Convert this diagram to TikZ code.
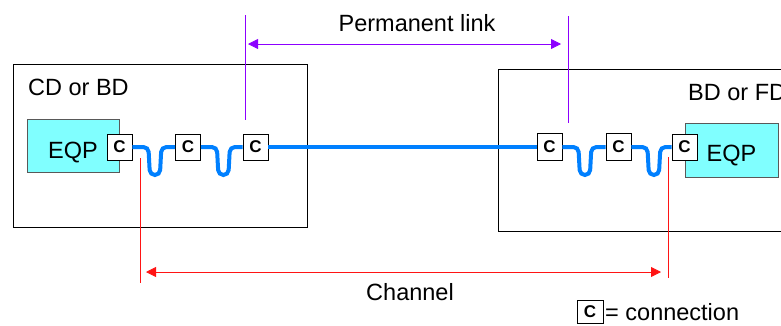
\documentclass[tikz,border=0pt]{standalone}
\usepackage{fontspec}
\setmainfont{Liberation Sans}
\usetikzlibrary{arrows.meta,positioning}
\definecolor{cablecol}{RGB}{0,128,255}
\definecolor{eqpcol}{RGB}{128,255,255}
\definecolor{linkcol}{RGB}{140,0,255}
\definecolor{chancol}{RGB}{255,20,20}

\begin{document}
\begin{tikzpicture}[
        x=1pt, y=-1pt,
        every node/.style={
                font=\fontsize{23.5}{27}\selectfont,
                inner sep=0pt
            },
        room/.style={
                draw=black,
                line width=1pt
            },
        equipment/.style={
                draw=black!65,
                fill=eqpcol,
                line width=0.9pt
            },
        conn/.style={
                draw=black,
                fill=white,
                line width=0.8pt,
                font=\fontsize{17}{19}\selectfont\bfseries,
                minimum width=25pt,
                minimum height=26pt
            },
        cable/.style={
                draw=cablecol,
                line width=4pt
            },
        slack/.style={
                rounded corners=5pt,
                to path={-- ++(16,0) -- ++(1.5,28) -- ++(10,0) -- ++(1.5,-28) -- (\tikztotarget)}
            },
        marker/.style={line width=0.8pt},
        span/.style={line width=0.8pt, {Triangle[length=10pt,width=10pt]}-{Triangle[length=10pt,width=10pt]}}
    ]
    \useasboundingbox (0,0) rectangle (781,325);
    % Rooms
    \node[room, minimum width=294pt, minimum height=163pt] (cdroom) at (160,145.5) {};
    \node[room, minimum width=312pt, minimum height=162pt] (fdroom) at (654,150) {};
    \node[anchor=west] (cdlabel) at (28,87) {CD or BD};
    \node[anchor=west] (fdlabel) at (688,93) {BD or FD};
    % Equipment
    \node[equipment, minimum width=92pt, minimum height=53pt] (eqpL) at (73,145.5) {\raisebox{-12.9pt}[0pt][0pt]{EQP}\hspace{8pt}};
    \node[equipment, minimum width=93pt, minimum height=54pt] (eqpR) at (731.5,150) {\raisebox{-11.4pt}[0pt][0pt]{EQP}};
    % Connections
    \node[conn] (c1) at (119.5,147) {C};
    \node[conn] (c2) at (188,147) {C};
    \node[conn] (c3) at (255.5,147) {C};
    \node[conn, minimum height=27pt] (c4) at (549.5,147) {C};
    \node[conn, minimum height=27pt] (c5) at (618.5,147) {C};
    \node[conn] (c6) at (684.5,147) {C};
    % Cabling
    \draw[cable, slack] (c1.east) to (c2.west);
    \draw[cable, slack] (c2.east) to (c3.west);
    \draw[cable] (c3.east) -- (c4.west);
    \draw[cable, slack] (c4.east) to (c5.west);
    \draw[cable, slack] (c5.east) to (c6.west);
    % Permanent link
    \coordinate (linkLt) at (245,15);
    \coordinate (linkLb) at (245,120);
    \coordinate (linkRt) at (568,16);
    \coordinate (linkRb) at (568,123);
    \coordinate (linkA) at (248,44);
    \coordinate (linkB) at (561,44);
    \draw[marker, linkcol] (linkLt) -- (linkLb);
    \draw[marker, linkcol] (linkRt) -- (linkRb);
    \draw[span, linkcol] (linkA) -- (linkB);
    \node (linklabel) at (417,23.5) {Permanent link};
    % Channel
    \coordinate (chanLt) at (140,158);
    \coordinate (chanLb) at (140,283);
    \coordinate (chanRt) at (668,157);
    \coordinate (chanRb) at (668,278);
    \coordinate (chanA) at (146,272);
    \coordinate (chanB) at (661,272);
    \draw[marker, chancol] (chanLt) -- (chanLb);
    \draw[marker, chancol] (chanRt) -- (chanRb);
    \draw[span, chancol] (chanA) -- (chanB);
    \node (chanlabel) at (410,292.5) {Channel};
    % Legend
    \node[conn, minimum width=26pt, minimum height=23pt] (ckey) at (590,311.5) {C};
    \node[anchor=west] (ckeylabel) at (605,312.5) {= connection};
\end{tikzpicture}
\end{document}
